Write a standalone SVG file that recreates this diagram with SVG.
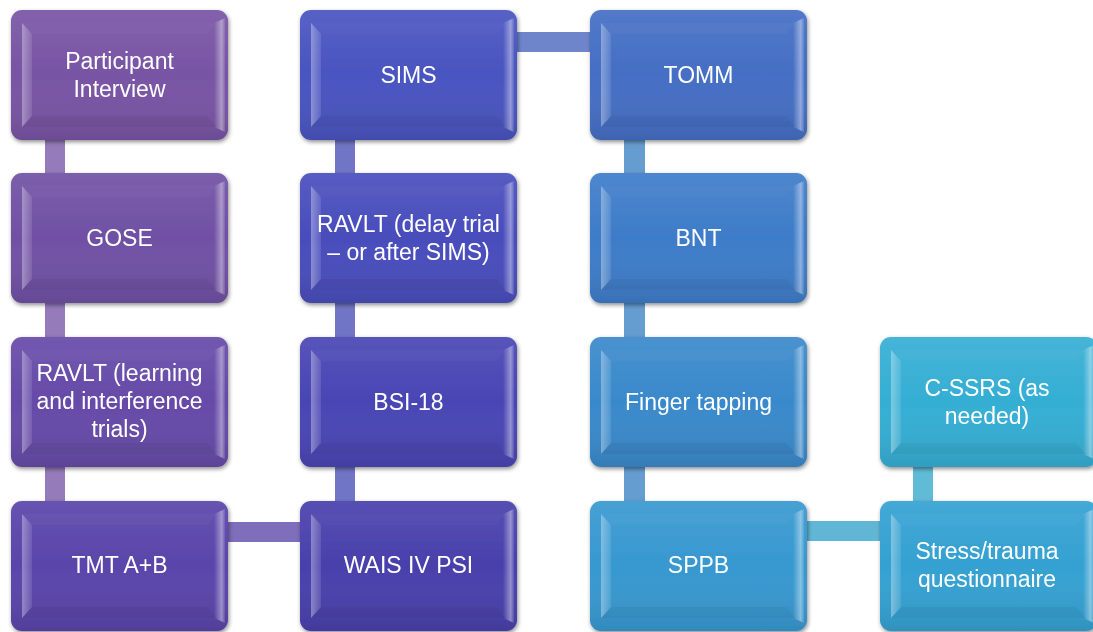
<svg xmlns="http://www.w3.org/2000/svg" xmlns:xlink="http://www.w3.org/1999/xlink" width="1093" height="632" viewBox="0 0 1093 632">
<style>
.lbl{font-family:"Liberation Sans",Arial,sans-serif;font-size:23px;fill:#ffffff;text-anchor:middle}
.box{filter:url(#shadow)}
</style>
<defs>
<filter id="shadow" x="-10%" y="-10%" width="125%" height="130%">
<feDropShadow dx="1" dy="2" stdDeviation="2" flood-color="#000" flood-opacity="0.45"/>
</filter>
<linearGradient id="sheen" x1="0" y1="0" x2="0" y2="1">
<stop offset="0" stop-color="#fff" stop-opacity="0.08"/>
<stop offset="0.5" stop-color="#fff" stop-opacity="0"/>
<stop offset="1" stop-color="#000" stop-opacity="0.1"/>
</linearGradient>
<linearGradient id="rband" x1="0" y1="0" x2="1" y2="0">
<stop offset="0" stop-color="#fff" stop-opacity="0"/>
<stop offset="0.7" stop-color="#fff" stop-opacity="0.4"/>
<stop offset="1" stop-color="#fff" stop-opacity="0.1"/>
</linearGradient>
<linearGradient id="lband" x1="0" y1="0" x2="1" y2="0">
<stop offset="0" stop-color="#fff" stop-opacity="0.35"/>
<stop offset="1" stop-color="#fff" stop-opacity="0.1"/>
</linearGradient>
<g id="bevel">
<rect x="0" y="0" width="217" height="130" rx="11" fill="url(#sheen)"/>
<path d="M11,13 L21,24 L21,106 L11,117 Z" fill="url(#lband)"/>
<path d="M203,13 L214,8 L214,122 L203,117 Z" fill="url(#rband)"/>
<path d="M11,13 L206,13 L196,24 L21,24 Z" fill="#fff" fill-opacity="0.025"/>
<path d="M21,106 L196,106 L206,117 L11,117 Z" fill="#000" fill-opacity="0.04"/>
</g>
</defs>
<rect width="1093" height="632" fill="#ffffff"/>

<g id="connectors" fill-opacity="0.8">
<rect x="45" y="138" width="20" height="366" fill="#7a5aa8"/>
<rect x="226" y="522" width="76" height="20" fill="#5e4aaa"/>
<rect x="335" y="138" width="20" height="366" fill="#4e52b8"/>
<rect x="515" y="32" width="77" height="20" fill="#4a66bf"/>
<rect x="624" y="138" width="21" height="366" fill="#3f85c4"/>
<rect x="805" y="521" width="77" height="20" fill="#3aa4cc"/>
<rect x="913" y="465" width="20" height="38" fill="#38aacc"/>
</g>

<g id="n1" class="box"><rect x="11" y="10" width="217" height="130" rx="11" fill="#7854a4"/><use href="#bevel" x="11" y="10"/>
<text class="lbl" x="119.5" y="69">Participant</text><text class="lbl" x="119.5" y="97">Interview</text></g>
<g id="n2" class="box"><rect x="11" y="173" width="217" height="130" rx="11" fill="#7050a4"/><use href="#bevel" x="11" y="173"/>
<text class="lbl" x="119.5" y="246">GOSE</text></g>
<g id="n3" class="box"><rect x="11" y="337" width="217" height="130" rx="11" fill="#664aa8"/><use href="#bevel" x="11" y="337"/>
<text class="lbl" x="119.5" y="381">RAVLT (learning</text><text class="lbl" x="119.5" y="409">and interference</text><text class="lbl" x="119.5" y="437">trials)</text></g>
<g id="n4" class="box"><rect x="11" y="501" width="217" height="130" rx="11" fill="#5a44aa"/><use href="#bevel" x="11" y="501"/>
<text class="lbl" x="119.5" y="573">TMT A+B</text></g>

<g id="n5" class="box"><rect x="300" y="10" width="217" height="130" rx="11" fill="#4954c0"/><use href="#bevel" x="300" y="10"/>
<text class="lbl" x="408.5" y="83">SIMS</text></g>
<g id="n6" class="box"><rect x="300" y="173" width="217" height="130" rx="11" fill="#494dbc"/><use href="#bevel" x="300" y="173"/>
<text class="lbl" x="408.5" y="232">RAVLT (delay trial</text><text class="lbl" x="408.5" y="260">– or after SIMS)</text></g>
<g id="n7" class="box"><rect x="300" y="337" width="217" height="130" rx="11" fill="#4945b4"/><use href="#bevel" x="300" y="337"/>
<text class="lbl" x="408.5" y="410">BSI-18</text></g>
<g id="n8" class="box"><rect x="300" y="501" width="217" height="130" rx="11" fill="#4940ac"/><use href="#bevel" x="300" y="501"/>
<text class="lbl" x="408.5" y="573">WAIS IV PSI</text></g>

<g id="n9" class="box"><rect x="590" y="10" width="217" height="130" rx="11" fill="#446ec4"/><use href="#bevel" x="590" y="10"/>
<text class="lbl" x="698.5" y="83">TOMM</text></g>
<g id="n10" class="box"><rect x="590" y="173" width="217" height="130" rx="11" fill="#3e7cc9"/><use href="#bevel" x="590" y="173"/>
<text class="lbl" x="698.5" y="246">BNT</text></g>
<g id="n11" class="box"><rect x="590" y="337" width="217" height="130" rx="11" fill="#3989cb"/><use href="#bevel" x="590" y="337"/>
<text class="lbl" x="698.5" y="410">Finger tapping</text></g>
<g id="n12" class="box"><rect x="590" y="501" width="217" height="130" rx="11" fill="#3798d0"/><use href="#bevel" x="590" y="501"/>
<text class="lbl" x="698.5" y="573">SPPB</text></g>

<g id="n13" class="box"><rect x="880" y="337" width="217" height="130" rx="11" fill="#35aed4"/><use href="#bevel" x="880" y="337"/>
<text class="lbl" x="987" y="396">C-SSRS (as</text><text class="lbl" x="987" y="424">needed)</text></g>
<g id="n14" class="box"><rect x="880" y="501" width="217" height="130" rx="11" fill="#34a1d2"/><use href="#bevel" x="880" y="501"/>
<text class="lbl" x="987" y="559">Stress/trauma</text><text class="lbl" x="987" y="587">questionnaire</text></g>
</svg>
